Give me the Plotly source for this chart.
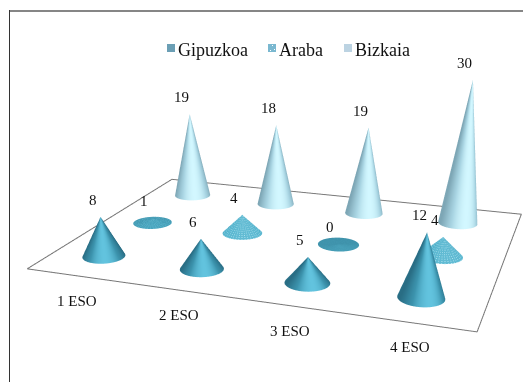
import numpy as np
import plotly.graph_objects as go

categories = ["1 ESO", "2 ESO", "3 ESO", "4 ESO"]
series_names = ["Gipuzkoa", "Araba", "Bizkaia"]
gipuzkoa = [8, 6, 5, 12]
araba = [1, 4, 0, 4]
bizkaia = [19, 18, 19, 30]

# The taller page gives the 3D scene a long lens; only the top part is on show.
W, H = 523, 730
EYE = dict(x=0.6273, y=-1.9881, z=0.5499)
CENTER = dict(x=0.0067, y=-0.2288, z=-0.4192)
# Box size per plotted unit span (4 categories, 3 series, 30 counts).
BOX = (1.0, 0.7876, 0.3592)
# Ranges are padded so the floor outline is not clipped at the box faces.
XR, YR, ZR = (-0.65, 3.65), (-0.52, 2.52), (-0.5, 30.5)

FONT = dict(family="Liberation Serif", size=15, color="#111111")
SCALES = [
    [[0, "#296d84"], [0.6, "#3c93ad"], [1, "#62c3de"]],
    [[0, "#3a8ba3"], [0.4, "#55b5cf"], [1, "#bdeaf5"]],
    [[0, "#7da6b5"], [0.6, "#a8d4e2"], [1, "#d2f7ff"]],
]
SWATCHES = [(167, "#6b9fb5"), (268, "#7ab8d0"), (344, "#bcd3e2")]

fig = go.Figure()

# Floor outline
fig.add_trace(go.Scatter3d(
    x=[-0.5, 3.53, 3.6, -0.5, -0.5], y=[-0.5, -0.5, 2.5, 2.5, -0.5], z=[0] * 5,
    mode="lines", line=dict(color="#777777", width=2),
    showlegend=False, hoverinfo="skip",
))

# Shading follows the angle to the viewer, with the highlight just right of centre.
view_angle = np.arctan2(EYE["y"] - CENTER["y"], EYE["x"] - CENTER["x"]) + np.radians(12)
unlit = dict(ambient=1, diffuse=0, specular=0, roughness=1, fresnel=0)
radius_x = 0.2
radius_y = radius_x * BOX[0] / 4 * 3 / BOX[1]

for s, values in enumerate([gipuzkoa, araba, bizkaia]):
    dotted = series_names[s] == "Araba"
    theta = np.linspace(0, 2 * np.pi, 361 if dotted else 121)
    rise = np.linspace(0, 1, 61 if dotted else 25)
    TH, T = np.meshgrid(theta, rise)
    I, J = np.meshgrid(np.arange(theta.size), np.arange(rise.size))
    for c, v in enumerate(values):
        X = c + radius_x * (1 - T) * np.cos(TH)
        Y = s + radius_y * (1 - T) * np.sin(TH)
        Z = v * T
        if dotted:
            # Pale dots on the Araba cones; they fade out on the flat ones.
            base = 0.08 + 0.3 * min(v, 4) / 4
            lift = {0: 0.04, 1: 0.25}.get(v, 0.45)
            dots = (I % 9 < 3) & (J % 5 < 2)
            shade = base + lift * dots + 0.1 * np.clip(np.cos(TH - view_angle), 0, 1)
        else:
            facing = np.cos(TH - view_angle)
            shade = np.maximum(facing, -0.55 * facing) ** 1.6
        fig.add_trace(go.Surface(
            x=X, y=Y, z=Z, surfacecolor=shade, cmin=0, cmax=1, colorscale=SCALES[s],
            showscale=False, hoverinfo="skip", lighting=unlit, showlegend=False,
        ))

value_labels = [
    dict(x=c, y=s, z=v, text=str(v), showarrow=False, xshift=-8, yshift=17, font=FONT)
    for s, values in enumerate([gipuzkoa, araba, bizkaia])
    for c, v in enumerate(values)
]
category_labels = [
    dict(x=c, y=-0.5, z=0, text=name, showarrow=False, xshift=1, yshift=-25, font=FONT)
    for c, name in enumerate(categories)
]

def px(a):
    return a / W

def py(a):
    return 1 - a / H

# Chart frame: grey top rule and dark left rule
shapes = [
    dict(type="line", xref="paper", yref="paper", x0=px(9.5), x1=1, y0=py(11), y1=py(11),
         line=dict(color="#868686", width=2)),
    dict(type="line", xref="paper", yref="paper", x0=px(9.5), x1=px(9.5), y0=py(10), y1=py(382),
         line=dict(color="#333333", width=1)),
]

# Legend row
legend_labels = []
for (x, colour), name in zip(SWATCHES, series_names):
    shapes.append(dict(type="rect", xref="paper", yref="paper", x0=px(x), x1=px(x + 8),
                       y0=py(44), y1=py(52), fillcolor=colour, line=dict(width=0)))
    legend_labels.append(dict(
        x=px(x + 9), y=py(50), xref="paper", yref="paper", xanchor="left", yanchor="middle",
        text=name, showarrow=False,
        font=dict(family="Liberation Serif", size=18, color="#111111"),
    ))
for dx, dy in [(4, 1), (6, 5), (2, 6)]:
    shapes.append(dict(type="rect", xref="paper", yref="paper", x0=px(268 + dx), x1=px(269 + dx),
                       y0=py(44 + dy), y1=py(45 + dy), fillcolor="white", line=dict(width=0)))

fig.update_layout(
    width=W, height=H, margin=dict(l=0, r=0, t=0, b=0), paper_bgcolor="white",
    showlegend=False, shapes=shapes, annotations=legend_labels,
    scene=dict(
        domain=dict(x=[0, 1], y=[0, 1]),
        xaxis=dict(visible=False, range=list(XR)),
        yaxis=dict(visible=False, range=list(YR)),
        zaxis=dict(visible=False, range=list(ZR)),
        aspectmode="manual",
        aspectratio=dict(
            x=BOX[0] * (XR[1] - XR[0]) / 4,
            y=BOX[1] * (YR[1] - YR[0]) / 3,
            z=BOX[2] * (ZR[1] - ZR[0]) / 30,
        ),
        camera=dict(eye=EYE, center=CENTER, up=dict(x=0, y=0, z=1)),
        annotations=value_labels + category_labels,
    ),
)
fig.write_html("out.html")
